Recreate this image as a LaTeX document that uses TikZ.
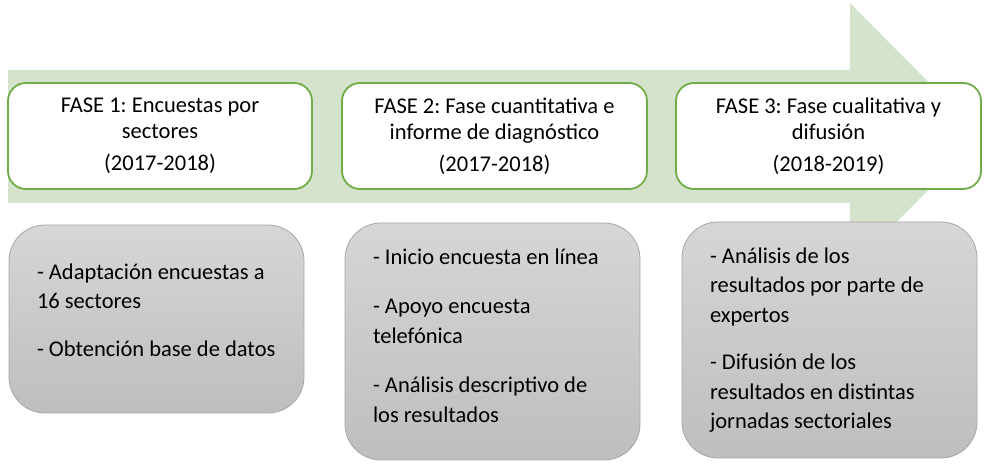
\documentclass[tikz,border=0pt]{standalone}
\usepackage{fontspec}
\setmainfont{Carlito}
\frenchspacing
\definecolor{arrowgreen}{HTML}{D5E3CC}
\definecolor{boxgreen}{HTML}{70AD47}
\definecolor{gtop}{HTML}{D6D6D6}
\definecolor{gbot}{HTML}{BEBEBE}
\definecolor{gline}{HTML}{A6A6A6}
\tikzset{
  phasebox/.style={draw=boxgreen, line width=1.8pt, fill=white, rounded corners=18pt,
    minimum width=304pt, minimum height=106pt, inner sep=0pt, align=center,
    font=\fontsize{22.5}{26}\selectfont},
  taskbox/.style={draw=gline, line width=0.8pt, top color=gtop, bottom color=gbot,
    rounded corners=36pt, minimum width=295pt, inner sep=0pt},
  tasktext/.style={inner sep=0pt, text width=239pt, align=flush left,
    font=\fontsize{22.5}{29.5}\selectfont},
}
\begin{document}
\begin{tikzpicture}[x=1pt,y=1pt]
\useasboundingbox (0,0) rectangle (990,468);
% big arrow
\fill[arrowgreen] (8,398) -- (850,398) -- (850,465) -- (982,332) -- (850,199) -- (850,265) -- (8,265) -- cycle;
% phase boxes
\node[phasebox] (f1) at (160,332) {FASE 1: Encuestas por\\sectores\\[6pt](2017-2018)};
\node[phasebox, minimum width=305pt] (f2) at (494.5,332) {FASE 2: Fase cuantitativa e\\informe de diagnóstico\\[6pt](2017-2018)};
\node[phasebox, minimum width=305pt] (f3) at (828.5,332) {FASE 3: Fase cualitativa y\\difusión\\[6pt](2018-2019)};
% task boxes
\node[taskbox, minimum height=188pt] (t1) at (156.5,149) {};
\node[taskbox, minimum height=237pt] (t2) at (492.5,126.5) {};
\node[taskbox, minimum height=236pt] (t3) at (829.5,128) {};
% task texts
\node[tasktext] (x1) at ([yshift=9pt]t1.center) {- Adaptación encuestas a\\16 sectores\\[18pt]- Obtención base de datos};
\node[tasktext] (x2) at ([yshift=6pt]t2.center) {- Inicio encuesta en línea\\[20pt]- Apoyo encuesta\\telefónica\\[20pt]- Análisis descriptivo de\\los resultados};
\node[tasktext] (x3) at (t3.center) {- Análisis de los\\resultados por parte de\\expertos\\[18pt]- Difusión de los\\resultados en distintas\\jornadas sectoriales};
\end{tikzpicture}
\end{document}
